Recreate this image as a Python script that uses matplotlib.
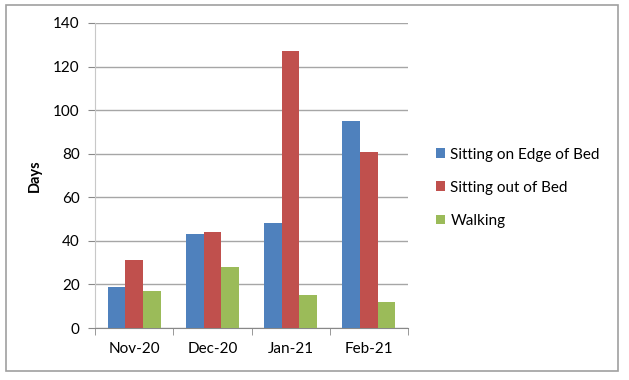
import matplotlib.pyplot as plt
import numpy as np
from matplotlib.patches import Rectangle

months = ['Nov-20', 'Dec-20', 'Jan-21', 'Feb-21']
edge_of_bed = [19, 43, 48, 95]
out_of_bed = [31, 44, 127, 81]
walking = [17, 28, 15, 12]
series_names = ['Sitting on Edge of Bed', 'Sitting out of Bed', 'Walking']
colors = ['#4f81bd', '#c0504d', '#9bbb59']
yticks = [0, 20, 40, 60, 80, 100, 120, 140]

plt.rcParams['font.family'] = ['Lato', 'DejaVu Sans']

fig = plt.figure(figsize=(6.29, 3.80), dpi=100)
fig.patches.append(Rectangle((6 / 629, 9 / 380), 612 / 629, 366 / 380,
                             transform=fig.transFigure, fill=False,
                             edgecolor='#a0a0a0', lw=1.2))
ax = fig.add_axes([95 / 629, 52 / 380, 313 / 629, 305 / 380])

x = np.arange(len(months))
w = 0.225
for i, (vals, name) in enumerate(zip([edge_of_bed, out_of_bed, walking], series_names)):
    ax.bar(x + (i - 1) * w, vals, w, color=colors[i], label=name, zorder=3)

ax.set_xlim(-0.5, len(months) - 0.5)
ax.set_ylim(0, 140)
ax.set_yticks(yticks)
ax.set_xticks(x)
ax.set_xticklabels(months)
ax.set_xticks(np.arange(len(months) + 1) - 0.5, minor=True)
ax.tick_params(axis='x', which='major', length=0, pad=10, labelsize=11)
ax.tick_params(axis='x', which='minor', length=5, color='#888888', direction='out')
ax.tick_params(axis='y', length=5, color='#888888', labelsize=11, pad=6)
ax.yaxis.grid(True, color='#a6a6a6', lw=1, zorder=0)
for s in ['top', 'right']:
    ax.spines[s].set_visible(False)
ax.spines['left'].set_color('#c8c8c8')
ax.spines['bottom'].set_color('#888888')
ax.set_ylabel('Days', fontweight='bold', fontsize=10.5, labelpad=8)

ax.legend(loc='center left', bbox_to_anchor=(1.045, 0.46), frameon=False,
          fontsize=11, handlelength=0.6, handleheight=0.6, handletextpad=0.35,
          labelspacing=1.25)

fig.savefig('out.png', dpi=100)
